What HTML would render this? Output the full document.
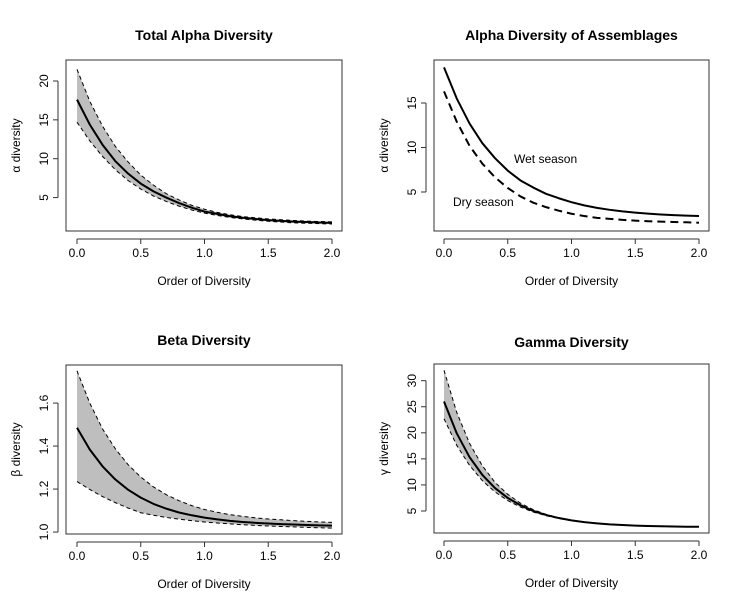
<!DOCTYPE html>
<html><head><meta charset="utf-8">
<style>
html,body{margin:0;padding:0;background:#fff;}
svg{display:block;font-family:"Liberation Sans",Arial,sans-serif;}
</style></head>
<body>
<svg id="chart" width="734" height="602" viewBox="0 0 734 602" xmlns="http://www.w3.org/2000/svg"></svg>
<script>
const orders = [0,0.1,0.2,0.3,0.4,0.5,0.6,0.7,0.8,0.9,1.0,1.1,1.2,1.3,1.4,1.5,1.6,1.7,1.8,1.9,2.0];
const xTicks = [0,0.5,1.0,1.5,2.0];
const xTickLabels = ["0.0","0.5","1.0","1.5","2.0"];

const totalAlphaMean  = [17.6,14.4,11.8,9.7,8.1,6.8,5.8,5.0,4.3,3.7,3.2,2.9,2.6,2.4,2.25,2.1,2.0,1.9,1.85,1.8,1.75];
const totalAlphaUpper = [21.5,17.4,14.2,11.6,9.6,7.9,6.6,5.5,4.7,4.0,3.5,3.1,2.8,2.55,2.4,2.25,2.15,2.05,1.98,1.92,1.88];
const totalAlphaLower = [14.7,12.3,10.3,8.6,7.2,6.1,5.2,4.5,3.9,3.4,3.0,2.7,2.45,2.25,2.1,1.95,1.85,1.75,1.7,1.65,1.6];
const totalAlphaTicks = [5,10,15,20];

const wetSeason = [19.0,15.5,12.7,10.5,8.8,7.4,6.3,5.5,4.8,4.3,3.86,3.5,3.22,3.0,2.82,2.68,2.57,2.48,2.41,2.35,2.3];
const drySeason = [16.3,12.9,10.2,8.2,6.65,5.45,4.5,3.8,3.3,2.9,2.56,2.3,2.1,1.98,1.87,1.78,1.72,1.67,1.63,1.6,1.55];
const assemblageTicks = [5,10,15];

const betaMean  = [1.485,1.384,1.306,1.245,1.197,1.16,1.131,1.109,1.091,1.078,1.067,1.059,1.052,1.047,1.043,1.04,1.037,1.035,1.033,1.031,1.03];
const betaUpper = [1.75,1.60,1.48,1.388,1.314,1.256,1.21,1.174,1.146,1.123,1.105,1.092,1.081,1.073,1.066,1.061,1.057,1.053,1.05,1.047,1.045];
const betaLower = [1.235,1.198,1.165,1.137,1.112,1.09,1.078,1.068,1.06,1.053,1.047,1.042,1.038,1.034,1.031,1.028,1.026,1.024,1.022,1.02,1.018];
const betaTicks = [1.0,1.2,1.4,1.6];

const gammaMean  = [26.0,19.9,15.35,11.95,9.4,7.5,6.1,5.0,4.24,3.65,3.2,2.87,2.63,2.44,2.31,2.2,2.13,2.07,2.03,1.99,1.97];
const gammaUpper = [32.0,23.9,18.0,13.7,10.5,8.2,6.5,5.26,4.36,3.7,3.21,2.86,2.6,2.41,2.28,2.18,2.1,2.05,2.01,1.98,1.96];
const gammaLower = [22.7,17.6,13.76,10.85,8.66,7.0,5.75,4.8,4.1,3.56,3.15,2.85,2.61,2.44,2.31,2.21,2.13,2.08,2.03,2.0,1.98];
const gammaTicks = [5,10,15,20,25,30];

const NS="http://www.w3.org/2000/svg";
const svg=document.getElementById('chart');
function mk(tag,attrs,parent){const e=document.createElementNS(NS,tag);for(const k in attrs)e.setAttribute(k,attrs[k]);(parent||svg).appendChild(e);return e;}

function panel(o){
  const g=mk('g',{});
  
  
  const X=v=>o.px0+(v-0)/(2-0)*(o.px1-o.px0);
  const Y=v=>o.bb-(v-o.ymin)/(o.ymax-o.ymin)*(o.bb-o.bt);
  const t=mk('text',{x:(o.bl+o.br)/2,y:o.titleY,'text-anchor':'middle','font-size':14,'font-weight':'bold',fill:'#000'},g);
  t.textContent=o.title;
  
  
  const path=arr=>arr.map((v,i)=>(i?'L':'M')+X(orders[i]).toFixed(2)+','+Y(v).toFixed(2)).join(' ');
  if(o.upper){
    let d=path(o.upper);
    for(let i=orders.length-1;i>=0;i--)d+=' L'+X(orders[i]).toFixed(2)+','+Y(o.lower[i]).toFixed(2);
    const band=mk('path',{d:d+' Z',fill:'#bebebe',stroke:'none'},g);
    
    
    const u=mk('path',{d:path(o.upper),fill:'none',stroke:'#000','stroke-width':1,'stroke-dasharray':'4,3'},g);
    
    
    const l=mk('path',{d:path(o.lower),fill:'none',stroke:'#000','stroke-width':1,'stroke-dasharray':'4,3'},g);
    
    
  }
  o.series.forEach(s=>{
    const p=mk('path',{d:path(s.data),fill:'none',stroke:'#000','stroke-width':2,'stroke-linejoin':'round','stroke-dasharray':s.dash||'none'},g);
    
    
  });
  const box=mk('rect',{x:o.bl,y:o.bt,width:o.br-o.bl,height:o.bb-o.bt,fill:'none',stroke:'#333','stroke-width':1},g);
  
  
  const ax=mk('line',{x1:X(xTicks[0]),x2:X(xTicks[xTicks.length-1]),y1:o.bb+8,y2:o.bb+8,stroke:'#333'},g);
  
  
  xTicks.forEach((v,i)=>{
    mk('line',{x1:X(v),x2:X(v),y1:o.bb+8,y2:o.bb+13,stroke:'#333'},g);
    const tl=mk('text',{x:X(v),y:o.bb+26,'text-anchor':'middle','font-size':12},g);
    tl.textContent=xTickLabels[i];
    
    
  });
  const xl=mk('text',{x:(o.bl+o.br)/2,y:o.bb+54,'text-anchor':'middle','font-size':12},g);
  xl.textContent='Order of Diversity';
  
  
  const yt=o.yticks;
  const ay=mk('line',{x1:o.bl-8,x2:o.bl-8,y1:Y(yt[0]),y2:Y(yt[yt.length-1]),stroke:'#333'},g);
  
  
  yt.forEach(v=>{
    mk('line',{x1:o.bl-8,x2:o.bl-13,y1:Y(v),y2:Y(v),stroke:'#333'},g);
    const lab=mk('text',{x:0,y:0,'text-anchor':'middle','font-size':12,transform:`translate(${o.bl-18},${Y(v)}) rotate(-90)`},g);
    lab.textContent=o.fmt?v.toFixed(1):String(v);
    
    
  });
  const yl=mk('text',{x:0,y:0,'text-anchor':'middle','font-size':12,transform:`translate(${o.bl-46},${(o.bt+o.bb)/2}) rotate(-90)`},g);
  yl.textContent=o.ylab;
  
  
  (o.labels||[]).forEach(L=>{
    const tx=mk('text',{x:L.x,y:L.y,'font-size':12},g);
    tx.textContent=L.t;
    
    
  });
}

panel({name:'total-alpha-panel',title:'Total Alpha Diversity',titleY:40,bl:66,br:342,bt:60,bb:231,px0:77,px1:332,
  ymin:0.7,ymax:22.7,yticks:totalAlphaTicks,ylab:'α diversity',upper:totalAlphaUpper,lower:totalAlphaLower,
  series:[{name:'total-alpha-mean-line',data:totalAlphaMean}]});
panel({name:'alpha-assemblages-panel',title:'Alpha Diversity of Assemblages',titleY:40,bl:434,br:709,bt:60,bb:231,px0:444,px1:699,
  ymin:0.62,ymax:19.83,yticks:assemblageTicks,ylab:'α diversity',
  series:[{name:'wet-season-line',data:wetSeason},{name:'dry-season-line',data:drySeason,dash:'8,5'}],
  labels:[{t:'Wet season',x:514,y:163,name:'wet-season-label'},{t:'Dry season',x:453,y:206,name:'dry-season-label'}]});
panel({name:'beta-panel',title:'Beta Diversity',titleY:345,bl:66,br:342,bt:365,bb:534,px0:77,px1:332,
  ymin:0.991,ymax:1.777,yticks:betaTicks,fmt:true,ylab:'β diversity',upper:betaUpper,lower:betaLower,
  series:[{name:'beta-mean-line',data:betaMean}]});
panel({name:'gamma-panel',title:'Gamma Diversity',titleY:347,bl:434,br:709,bt:364,bb:533,px0:444,px1:699,
  ymin:0.78,ymax:33.2,yticks:gammaTicks,ylab:'γ diversity',upper:gammaUpper,lower:gammaLower,
  series:[{name:'gamma-mean-line',data:gammaMean}]});
</script>
</body></html>
